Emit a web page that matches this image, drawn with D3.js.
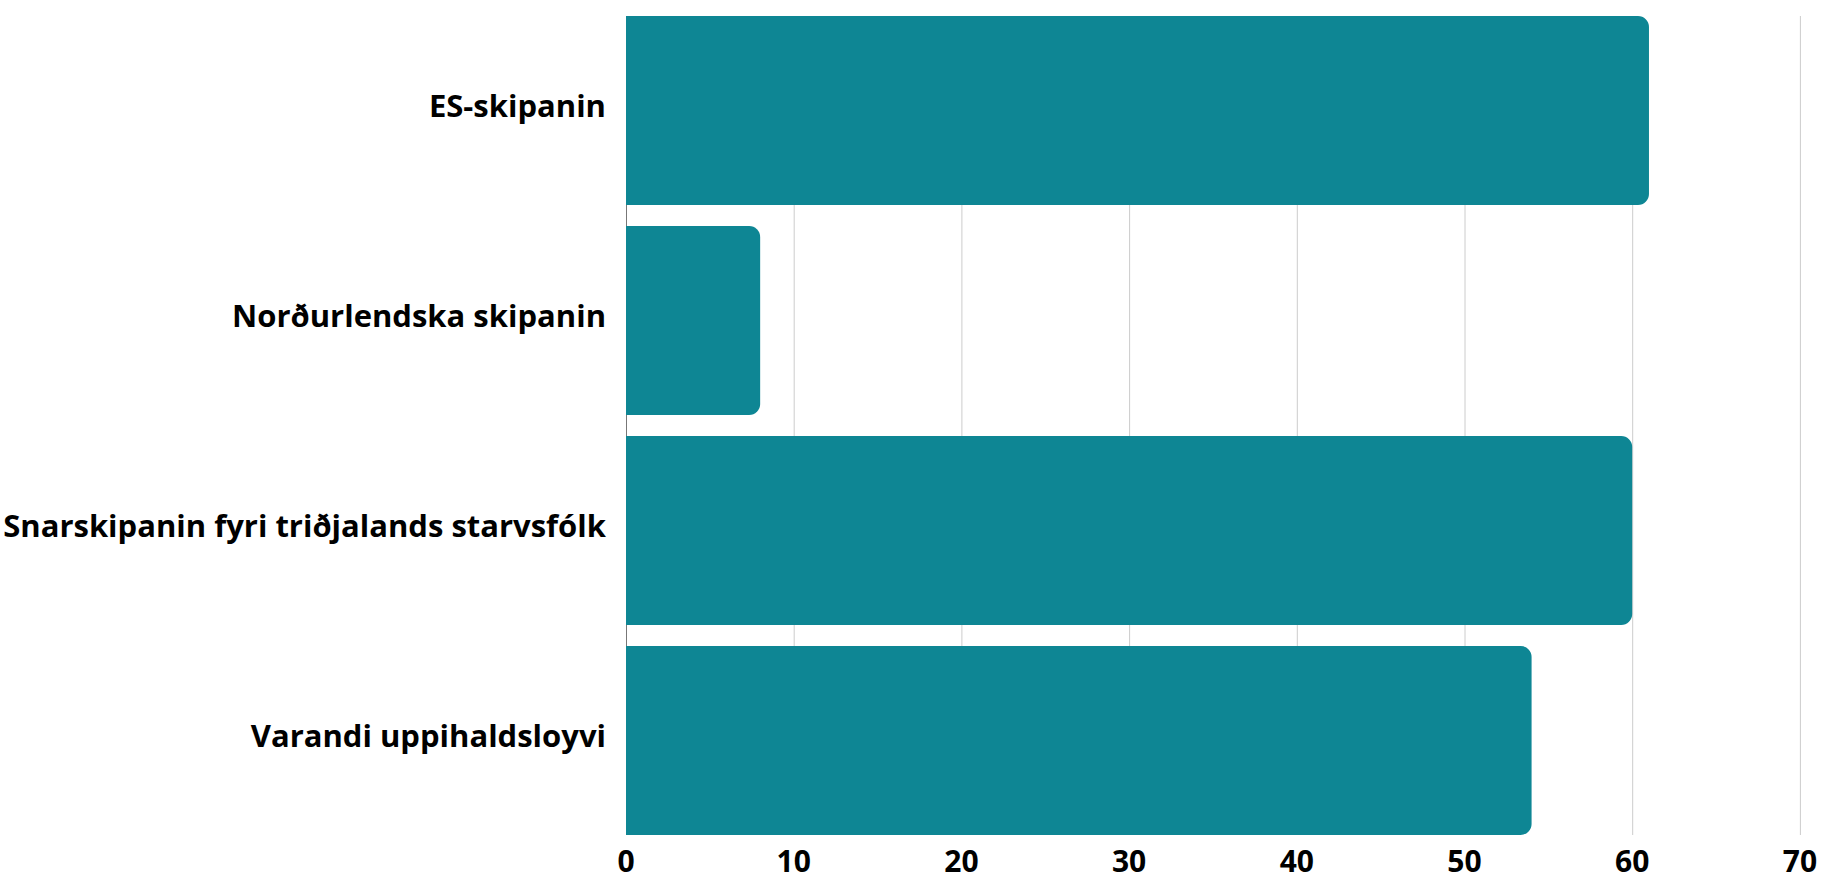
<!DOCTYPE html>
<html>
<head>
<meta charset="utf-8">
<script src="https://cdn.jsdelivr.net/npm/d3@7"></script>
<style>
  html, body { margin: 0; padding: 0; background: #fff; }
  svg { display: block; font-family: 'Open Sans', 'Noto Sans', sans-serif; }
  .label { font-size: 31px; font-weight: 700; fill: #000; }
  .tick-label { font-size: 30px; font-weight: 700; fill: #000; }
</style>
</head>
<body>
<svg id="chart" width="1824" height="878"></svg>
<script>
// categories and values
const categories = [
  'ES-skipanin',
  'Norðurlendska skipanin',
  'Snarskipanin fyri triðjalands starvsfólk',
  'Varandi uppihaldsloyvi'
]
const values = [61, 8, 60, 54]
const xTicks = [0, 10, 20, 30, 40, 50, 60, 70]

const WIDTH = 1824
const HEIGHT = 878
const MARGIN = {top: 16, right: 25, bottom: 43, left: 626}
const RADIUS = 11
const BAR_COLOR = '#0e8694'

let svg = d3.select('#chart')

let xScale = d3.scaleLinear()
  .domain([0, 70])
  .range([MARGIN.left, MARGIN.left + 70 * 16.77])

let yScale = d3.scaleBand()
  .domain(categories)
  .range([MARGIN.top, HEIGHT - MARGIN.bottom])
  .paddingInner(0.1)
  .paddingOuter(0)

let plotBottom = HEIGHT - MARGIN.bottom

// vertical grid lines
svg.append('g')
  .attr('class', 'grid')
  .selectAll('line')
  .data(xTicks.filter(d => d > 0))
  .enter().append('line')
  .attr('x1', d => xScale(d) + 0.5)
  .attr('x2', d => xScale(d) + 0.5)
  .attr('y1', MARGIN.top)
  .attr('y2', plotBottom)
  .attr('stroke', '#cccccc')
  .attr('stroke-width', 1)

// y axis line
svg.append('line')
  .attr('x1', xScale(0) + 0.5)
  .attr('x2', xScale(0) + 0.5)
  .attr('y1', MARGIN.top)
  .attr('y2', plotBottom)
  .attr('stroke', '#777')
  .attr('stroke-width', 1)

// bars, rounded on the right end only
function barPath(x0, x1, y, h, r) {
  r = Math.min(r, (x1 - x0), h / 2)
  return 'M' + x0 + ',' + y +
    'H' + (x1 - r) +
    'A' + r + ',' + r + ' 0 0 1 ' + x1 + ',' + (y + r) +
    'V' + (y + h - r) +
    'A' + r + ',' + r + ' 0 0 1 ' + (x1 - r) + ',' + (y + h) +
    'H' + x0 + 'Z'
}

svg.append('g')
  .selectAll('path')
  .data(categories)
  .enter().append('path')
  .attr('fill', BAR_COLOR)
  .attr('d', (d, i) => barPath(xScale(0), xScale(values[i]), yScale(d), yScale.bandwidth(), RADIUS))

// category labels
svg.append('g')
  .selectAll('text')
  .data(categories)
  .enter().append('text')
  .attr('class', 'label')
  .attr('x', xScale(0) - 20)
  .attr('y', d => yScale(d) + yScale.bandwidth() / 2)
  .attr('dy', '0.2em')
  .attr('text-anchor', 'end')
  .text(d => d)

// x tick labels
svg.append('g')
  .selectAll('text')
  .data(xTicks)
  .enter().append('text')
  .attr('class', 'tick-label')
  .attr('x', d => xScale(d))
  .attr('y', 872)
  .attr('text-anchor', 'middle')
  .text(d => d)
</script>
</body>
</html>
